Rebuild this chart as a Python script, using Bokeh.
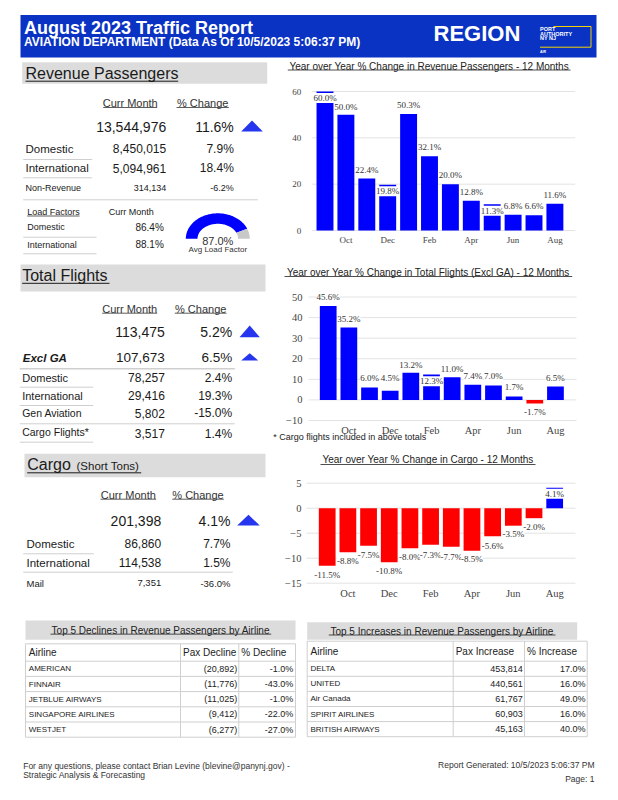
import numpy as np
from bokeh.plotting import figure
from bokeh.models import Range1d, ColumnDataSource, LinearAxis, FixedTicker
from bokeh.layouts import column, row
from bokeh.core.properties import value
from bokeh.embed import file_html
from bokeh.resources import INLINE

# ---------------- data ----------------
report_title = "August 2023 Traffic Report"
report_subtitle = "AVIATION DEPARTMENT (Data As Of 10/5/2023 5:06:37 PM)"
region_name = "REGION"
logo_lines = ["PORT", "AUTHORITY", "NY NJ"]

months = ["Sep", "Oct", "Nov", "Dec", "Jan", "Feb", "Mar", "Apr", "May", "Jun", "Jul", "Aug"]

rp_total = 13544976
rp_total_pct = 11.6
rp_labels = ["Domestic", "International"]
rp_curr = [8450015, 5094961]
rp_pct = [7.9, 18.4]
nonrev_label = "Non-Revenue"
nonrev_curr = 314134
nonrev_pct = -6.2
lf_labels = ["Domestic", "International"]
lf_vals = [86.4, 88.1]
lf_avg = 87.0

fl_total = 113475
fl_total_pct = 5.2
fl_exga = 107673
fl_exga_pct = 6.5
fl_labels = ["Domestic", "International", "Gen Aviation", "Cargo Flights*"]
fl_curr = [78257, 29416, 5802, 3517]
fl_pct = [2.4, 19.3, -15.0, 1.4]

cg_total = 201398
cg_total_pct = 4.1
cg_labels = ["Domestic", "International", "Mail"]
cg_curr = [86860, 114538, 7351]
cg_pct = [7.7, 1.5, -36.0]

rp_yoy = [60.0, 50.0, 22.4, 19.8, 50.3, 32.1, 20.0, 12.8, 11.3, 6.8, 6.6, 11.6]
fl_yoy = [45.6, 35.2, 6.0, 4.5, 13.2, 12.3, 11.0, 7.4, 7.0, 1.7, -1.7, 6.5]
cg_yoy = [-11.5, -8.8, -7.5, -10.8, -8.0, -7.3, -7.7, -8.5, -5.6, -3.5, -2.0, 4.1]

dec_airlines = ["AMERICAN", "FINNAIR", "JETBLUE AIRWAYS", "SINGAPORE AIRLINES", "WESTJET"]
dec_pax = [-20892, -11776, -11025, -9412, -6277]
dec_pct = [-1.0, -43.0, -1.0, -22.0, -27.0]
inc_airlines = ["DELTA", "UNITED", "Air Canada", "SPIRIT AIRLINES", "BRITISH AIRWAYS"]
inc_pax = [453814, 440561, 61767, 60903, 45163]
inc_pct = [17.0, 16.0, 49.0, 16.0, 40.0]

footer_left = ["For any questions, please contact Brian Levine (blevine@panynj.gov) -",
               "Strategic Analysis & Forecasting"]
footer_right = ["Report Generated: 10/5/2023 5:06:37 PM", "Page: 1"]

# ---------------- styles ----------------
SANS = "Liberation Sans"
SERIF = "Liberation Serif"
INK = "#1a1a1a"
HEAD_BLUE = "#0a33c4"
SEP_BLUE = "#1238c2"
BAR_BLUE = "#0000ff"
BAR_RED = "#ff0000"
TRI_BLUE = "#2536ee"
BOX_GRAY = "#dcdcdc"
RULE = "#cfcfcf"
GRID = "#e3e3e3"


def canvas(ox, oy, w, h):
    p = figure(width=w, height=h, x_range=Range1d(ox, ox + w), y_range=Range1d(oy + h, oy),
               min_border=0, x_axis_location=None, y_axis_location=None, title=None,
               toolbar_location=None, output_backend="svg")
    p.outline_line_color = None
    p.grid.visible = False
    return p


def T(p, x, y, s, size, align="left", color=INK, style="normal", font=SANS):
    ss = s if isinstance(s, list) else [s]
    xs = x if isinstance(x, list) else [x] * len(ss)
    ys = y if isinstance(y, list) else [y] * len(ss)
    p.text(x=xs, y=ys, text=ss, text_font=value(font), text_font_size=f"{size}px",
           text_align=align, text_baseline="middle", text_color=color, text_font_style=style)


def hline(p, x0, x1, y, color=RULE, w=1.0):
    p.segment(x0=[x0], y0=[y], x1=[x1], y1=[y], line_color=color, line_width=w)


def vline(p, x, y0, y1, color=RULE, w=1.0):
    p.segment(x0=[x], y0=[y0], x1=[x], y1=[y1], line_color=color, line_width=w)


def box(p, l, r, t, b, color):
    p.quad(left=[l], right=[r], top=[t], bottom=[b], fill_color=color, line_color=None)


def arrow(p, pct, cx, cy, w, h):
    d = 1 if pct >= 0 else -1
    col = TRI_BLUE if pct >= 0 else BAR_RED
    p.patch(x=[cx - w / 2, cx + w / 2, cx], y=[cy + d * h / 2, cy + d * h / 2, cy - d * h / 2],
            fill_color=col, line_color=None)


def fmt_int(v):
    return f"({abs(v):,})" if v < 0 else f"{v:,}"


def fmt_pct(v):
    return f"{v:.1f}%"


# ---------------- header ----------------
hdr = canvas(0, 0, 602, 58)
box(hdr, 20, 596, 14.5, 57, HEAD_BLUE)
T(hdr, 23.5, 27.2, report_title, 18, color="white", style="bold")
T(hdr, 23.5, 41.8, report_subtitle, 12, color="white", style="bold")
T(hdr, 433, 33, region_name, 22, color="white", style="bold")
T(hdr, 539.5, [28.5, 33.2, 37.9], logo_lines, 5.5, color="white", style="bold")
T(hdr, 539.5, 51, "AIR", 3.5, color="white", style="bold")
LOGO_Y = "#f2d200"
hline(hdr, 553, 590.5, 26, LOGO_Y, 1)
vline(hdr, 590.5, 26, 46.7, LOGO_Y, 1)
hline(hdr, 539.5, 590.5, 46.7, LOGO_Y, 1)

# ---------------- section 1 : revenue passengers ----------------
L1 = canvas(0, 58, 270, 200)
box(L1, 21.7, 266.7, 61.7, 83.3, BOX_GRAY)
T(L1, 25, 72.6, "Revenue Passengers", 16)
hline(L1, 25, 177.7, 80.7, INK, 1)
T(L1, 129.7, 102.7, "Curr Month", 11, align="center", color="#333")
hline(L1, 102.7, 156.7, 107, "#333", 0.8)
T(L1, 202.2, 102.7, "% Change", 11, align="center", color="#333")
hline(L1, 176, 228.3, 107, "#333", 0.8)
T(L1, 165.7, 126, fmt_int(rp_total), 14, align="right")
T(L1, 233.3, 126, fmt_pct(rp_total_pct), 14, align="right")
arrow(L1, rp_total_pct, 251.5, 125.5, 21.6, 11)
rp_y = [148.3, 167.7]
T(L1, 25, rp_y, rp_labels, 11.5)
T(L1, 165.7, rp_y, [fmt_int(v) for v in rp_curr], 12, align="right")
T(L1, 233.3, rp_y, [fmt_pct(v) for v in rp_pct], 12, align="right")
hline(L1, 22.7, 91.7, 159)
hline(L1, 22.7, 91.7, 177.3)
T(L1, 25, 187.7, nonrev_label, 9)
T(L1, 165.7, 187.7, fmt_int(nonrev_curr), 9, align="right")
T(L1, 233.3, 187.7, fmt_pct(nonrev_pct), 9, align="right")
hline(L1, 22.7, 257.3, 199.3)
T(L1, 26.7, 211.7, "Load Factors", 9)
hline(L1, 26.7, 79, 215.5, INK, 0.7)
T(L1, 108.3, 211.7, "Curr Month", 9)
lf_y = [226.7, 244]
T(L1, 26.7, lf_y, lf_labels, 9)
T(L1, 163.3, lf_y, [fmt_pct(v) for v in lf_vals], 10, align="right")
hline(L1, 22.7, 96, 236.7)
hline(L1, 22.7, 96, 253.3)
# gauge
g_cx, g_cy = 217.3, 238.3
split = np.pi * (1 - lf_avg / 100.0)
for a0, a1, col in [(np.pi, split, BAR_BLUE), (split, 0.0, "#c8c8c8")]:
    th = np.linspace(a0, a1, 80)
    gx = np.concatenate([g_cx + 32 * np.cos(th), g_cx + 20.3 * np.cos(th[::-1])])
    gy = np.concatenate([g_cy - 25.5 * np.sin(th), g_cy - 15 * np.sin(th[::-1])])
    L1.patch(x=list(gx), y=list(gy), fill_color=col, line_color=None)
T(L1, 217.3, 240.5, fmt_pct(lf_avg), 11, align="center", color="#333")
T(L1, 217.3, 248.5, "Avg Load Factor", 8, align="center", color="#333")


# ---------------- bar chart builder ----------------
def bar_chart(vals, fig_top, fig_h, center0, step, calib, yticks, grid_x0, grid_x1,
              tsize, ystand, xstand, label_dy, title, title_y, ul_x0, ul_x1, ul_y,
              footnote=None):
    fig_left, fig_w = 270, 332
    va, pa, vb, pb = calib
    k = (pa - pb) / (vb - va)

    def X(px):
        return (px - center0) / step

    def Y(py):
        return va + (pa - py) / k

    p = figure(width=fig_w, height=fig_h,
               x_range=Range1d(X(fig_left), X(fig_left + fig_w)),
               y_range=Range1d(Y(fig_top + fig_h), Y(fig_top)),
               min_border=0, x_axis_location=None, y_axis_location=None, title=None,
               toolbar_location=None, output_backend="svg")
    p.outline_line_color = None
    p.grid.visible = False
    # grid lines at the y ticks
    n = len(yticks)
    p.segment(x0=[X(grid_x0)] * n, x1=[X(grid_x1)] * n, y0=yticks, y1=yticks,
              line_color=GRID, line_width=1)
    # axes
    xt = [i for i in range(len(months)) if i % 2 == 1]
    yax = LinearAxis(fixed_location=X(grid_x0), ticker=FixedTicker(ticks=yticks))
    xax = LinearAxis(fixed_location=min(yticks), ticker=FixedTicker(ticks=xt),
                     major_label_overrides={i: months[i] for i in xt})
    for ax, st in [(xax, xstand), (yax, ystand)]:
        ax.axis_line_color = None
        ax.major_tick_line_color = None
        ax.minor_tick_line_color = None
        ax.major_tick_out = 0
        ax.major_tick_in = 0
        ax.minor_tick_out = 0
        ax.minor_tick_in = 0
        ax.major_label_text_font = SERIF
        ax.major_label_text_font_size = f"{tsize}px"
        ax.major_label_text_color = "#444444"
        ax.major_label_standoff = st
    p.add_layout(yax, "left")
    p.add_layout(xax, "below")
    # bars + value labels
    idx = list(range(len(vals)))
    src = ColumnDataSource(dict(
        x=idx, top=vals,
        color=[BAR_BLUE if v >= 0 else BAR_RED for v in vals],
        ly=[v + (d / k if v >= 0 else -d / k) for v, d in zip(vals, label_dy)],
        lab=[fmt_pct(v) for v in vals]))
    p.vbar(x="x", top="top", bottom=0, width=0.81, fill_color="color", line_color=None, source=src)
    p.text(x="x", y="ly", text="lab", source=src, text_font=value(SERIF), text_font_size="9px",
           text_align="center", text_baseline="middle", text_color="#333333",
           background_fill_color="white")
    # title with underline
    p.text(x=[X((ul_x0 + ul_x1) / 2)], y=[Y(title_y)], text=[title], text_font=value(SANS),
           text_font_size="10px", text_align="center", text_baseline="middle", text_color="#222")
    p.segment(x0=[X(ul_x0)], x1=[X(ul_x1)], y0=[Y(ul_y)], y1=[Y(ul_y)], line_color="#222",
              line_width=0.8)
    if footnote is not None:
        ftxt, fx, fy = footnote
        p.text(x=[X(fx)], y=[Y(fy)], text=[ftxt], text_font=value(SANS), text_font_size="9px",
               text_align="left", text_baseline="middle", text_color="#222")
    return p


C1 = bar_chart(rp_yoy, 58, 200, 324.5, 20.9, (0, 230, 60, 91), [0, 20, 40, 60], 311.7, 574.7,
               9, 11, 4, [-6.5, 8, 9, -6.5, 8.5, 9.5, 9.5, 9, -6.5, 9, 9.5, 9],
               "Year over Year % Change in Revenue Passengers - 12 Months", 65.7, 287.3, 570, 69.5)

sep1 = canvas(0, 258, 602, 4)
box(sep1, 20, 592, 258.3, 260.8, SEP_BLUE)

# ---------------- section 2 : total flights ----------------
L2 = canvas(0, 262, 270, 185)
box(L2, 20, 265, 264, 291, BOX_GRAY)
T(L2, 21.7, 275, "Total Flights", 16)
hline(L2, 21.7, 109, 282.8, INK, 1)
T(L2, 129.2, 308.3, "Curr Month", 11, align="center", color="#333")
hline(L2, 101.7, 156.7, 312.7, "#333", 0.8)
T(L2, 200.2, 308.3, "% Change", 11, align="center", color="#333")
hline(L2, 174.3, 226, 312.7, "#333", 0.8)
T(L2, 164.3, 331.7, fmt_int(fl_total), 14, align="right")
T(L2, 231.7, 331.7, fmt_pct(fl_total_pct), 14, align="right")
arrow(L2, fl_total_pct, 249.2, 330.8, 20.3, 11.7)
T(L2, 22.3, 357.3, "Excl GA", 11.5, style="bold italic")
T(L2, 164.3, 357.3, fmt_int(fl_exga), 13.5, align="right")
T(L2, 231.7, 357.3, fmt_pct(fl_exga_pct), 13.5, align="right")
arrow(L2, fl_exga_pct, 249.2, 356.3, 17, 7.3)
hline(L2, 19.3, 234.3, 368.3, RULE, 1.5)
fl_y = [377.3, 395, 412.7, 431]
fl_sizes = [11, 11, 10.5, 10.5]
for lab, yy, sz in zip(fl_labels, fl_y, fl_sizes):
    T(L2, 21.7, yy, lab, sz)
fl_vy = [377.3, 395, 412.7, 433.3]
T(L2, 164.3, fl_vy, [fmt_int(v) for v in fl_curr], 12, align="right")
T(L2, 231.7, fl_vy, [fmt_pct(v) for v in fl_pct], 12, align="right")
hline(L2, 19.3, 92.7, 386.7)
hline(L2, 19.3, 92.7, 405)
hline(L2, 19.3, 234.3, 423.3)
hline(L2, 19.3, 92.7, 441.7)

C2 = bar_chart(fl_yoy, 262, 185, 327.7, 20.66, (-10, 420, 50, 296.5),
               [-10, 0, 10, 20, 30, 40, 50], 308, 576, 10.5, 6, 4,
               [8.7, 8.5, 9.7, 12.7, 8, -6.7, 8.3, 8.7, 9.6, 9, 9, 9],
               "Year over Year % Change in Total Flights (Excl GA) - 12 Months", 271.7, 284, 571.7,
               276, footnote=("* Cargo flights included in above totals", 272.7, 436))

sep2 = canvas(0, 447, 602, 4)
box(sep2, 20, 592, 446.6, 449, SEP_BLUE)

# ---------------- section 3 : cargo ----------------
L3 = canvas(0, 451, 270, 160)
box(L3, 24, 265, 453.3, 476.7, BOX_GRAY)
T(L3, 26.7, 464.4, "Cargo", 16)
T(L3, 76, 465.9, "(Short Tons)", 11.5)
hline(L3, 26.7, 140.7, 472.3, INK, 1)
T(L3, 127.8, 494.3, "Curr Month", 11, align="center", color="#333")
hline(L3, 100, 155.7, 498.7, "#333", 0.8)
T(L3, 197.5, 494.3, "% Change", 11, align="center", color="#333")
hline(L3, 171.7, 223.3, 498.7, "#333", 0.8)
T(L3, 160.7, 520, fmt_int(cg_total), 14, align="right")
T(L3, 230, 520, fmt_pct(cg_total_pct), 14, align="right")
arrow(L3, cg_total_pct, 248, 519.7, 22.6, 10.7)
cg_y = [543.3, 562.3, 582.7]
cg_sizes = [11.5, 11.5, 9.5]
cg_vsizes = [12, 12, 9.5]
for lab, c, pc, yy, sz, vs in zip(cg_labels, cg_curr, cg_pct, cg_y, cg_sizes, cg_vsizes):
    T(L3, 26, yy, lab, sz)
    T(L3, 160.7, yy, fmt_int(c), vs, align="right")
    T(L3, 230, yy, fmt_pct(pc), vs, align="right")
hline(L3, 22.7, 93.3, 553.3)
hline(L3, 22.7, 232.3, 571.7)

C3 = bar_chart(cg_yoy, 451, 160, 326.7, 20.68, (-15, 582.7, 5, 482.7),
               [-15, -10, -5, 0, 5], 306, 575, 10.5, 5, 5,
               [9, 8.3, 9, 8.3, 9, 9.8, 9.8, 8.5, 9.3, 8.5, 9, -6],
               "Year over Year % Change in Cargo - 12 Months", 459, 320, 535, 464)

sep3 = canvas(0, 611, 602, 4)
box(sep3, 20, 592, 611.8, 614.2, SEP_BLUE)

# ---------------- bottom tables + footer ----------------
B = canvas(0, 615, 602, 169)


def airline_table(p, x0, x1, col1, col2, title_box, title_text, title_cx, ul, head_top, head_bot,
                  row_h, headers, names, pax, pct, pax_right, pct_right):
    box(p, title_box[0], title_box[1], title_box[2], title_box[3], BOX_GRAY)
    ty = (title_box[2] + title_box[3]) / 2
    T(p, title_cx, ty, title_text, 10, align="center", color="#222")
    hline(p, ul[0], ul[1], ty + 4, "#222", 0.8)
    n = len(names)
    bottom = head_bot + n * row_h
    for yy in [head_top, head_bot] + [head_bot + (i + 1) * row_h for i in range(n)]:
        hline(p, x0, x1, yy)
    for xx in [x0, col1, col2, x1]:
        vline(p, xx, head_top, bottom)
    hy = (head_top + head_bot) / 2
    T(p, [x0 + 3.3, col1 + 2.5, col2 + 2.5], hy, headers, 10, color="#222")
    ry = [head_bot + (i + 0.5) * row_h for i in range(n)]
    T(p, x0 + 3.3, ry, names, 8, color="#222")
    T(p, pax_right, ry, [fmt_int(v) for v in pax], 9, align="right", color="#222")
    T(p, pct_right, ry, [fmt_pct(v) for v in pct], 9, align="right", color="#222")


airline_table(B, 25, 295, 180, 238.3, (25, 295, 620, 639.3),
              "Top 5 Declines in Revenue Passengers by Airline", 160.3, (50, 270.7),
              643.3, 660.7, 15.2, ["Airline", "Pax Decline", "% Decline"],
              dec_airlines, dec_pax, dec_pct, 236.7, 292.7)
airline_table(B, 306.7, 586.7, 452.7, 524, (306.7, 576.7, 621.7, 639.3),
              "Top 5 Increases in Revenue Passengers by Airline", 441.7, (328.3, 555),
              640.7, 660.7, 15.1, ["Airline", "Pax Increase", "% Increase"],
              inc_airlines, inc_pax, inc_pct, 522.3, 585)

T(B, 22.7, [765, 774.3], footer_left, 8.5, color="#333")
T(B, 594, [764, 778.3], footer_right, 8.5, align="right", color="#333")

# ---------------- layout ----------------
layout = column(
    hdr,
    row(L1, C1),
    sep1,
    row(L2, C2),
    sep2,
    row(L3, C3),
    sep3,
    B,
)

open("out.html", "w").write(file_html(layout, INLINE))
